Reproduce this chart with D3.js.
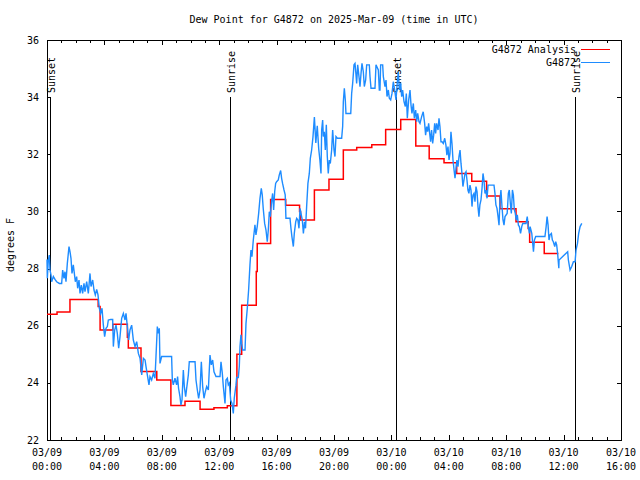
<!DOCTYPE html>
<html>
<head>
<meta charset="utf-8">
<script src="https://cdn.jsdelivr.net/npm/d3@7/dist/d3.min.js"></script>
<style>
html,body{margin:0;padding:0;background:#fff;}
text{font-family:"DejaVu Sans Mono",monospace;font-size:10px;fill:#000;}
</style>
</head>
<body>
<svg id="chart" width="640" height="480"></svg>
<script>
// ---- data (minutes since 2025-03-09 00:00 UTC, values in degrees F) ----
const chartTitle = "Dew Point for G4872 on 2025-Mar-09 (time in UTC)";
const yLabel = "degrees F";
const seriesNames = ["G4872 Analysis", "G4872"];
const yTicks = [22, 24, 26, 28, 30, 32, 34, 36];
const xTickMinutes = [0, 240, 480, 720, 960, 1200, 1440, 1680, 1920, 2160, 2400];
const xTickDates = ["03/09","03/09","03/09","03/09","03/09","03/09","03/10","03/10","03/10","03/10","03/10"];
const xTickTimes = ["00:00","04:00","08:00","12:00","16:00","20:00","00:00","04:00","08:00","12:00","16:00"];
const sunNames = ["Sunset", "Sunrise", "Sunset", "Sunrise"];
const sunMinutes = [14, 766, 1460, 2208];

const analysisMinutes = [0, 42, 96, 214, 222, 275, 336, 340, 393, 459, 518, 577, 640, 698, 754, 794, 814, 875, 879, 935, 998, 1056, 1060, 1118, 1179, 1239, 1295, 1358, 1416, 1479, 1542, 1598, 1660, 1713, 1776, 1838, 1894, 1961, 2012, 2018, 2079, 2138];
const analysisValues  = [26.40, 26.48, 26.92, 26.67, 25.85, 26.05, 25.60, 25.22, 24.40, 24.10, 23.21, 23.36, 23.08, 23.13, 23.20, 25.00, 26.72, 27.90, 28.88, 30.42, 30.22, 30.00, 29.70, 30.75, 31.13, 32.15, 32.24, 32.33, 32.87, 33.22, 32.29, 31.84, 31.70, 31.33, 31.06, 30.54, 30.09, 29.64, 29.40, 28.92, 28.53, 28.53];

const obsMinutes = [0,1.4,5.5,9.7,12.5,16.7,19.5,26.5,33.4,40.4,51.5,61.3,65.5,71,75.2,79.4,85,92,96.2,100.3,104.5,110,114.3,118.5,124,128.2,133.8,138,143.6,149,154.7,158.9,165.9,172.8,179.8,184,191,196.5,202,207.7,213.2,218.8,224.4,230,235.6,241,246.7,252.3,256.5,266.2,274.6,277.4,283,288.5,294,299.7,305.3,312.2,319.2,326.2,330.3,336,341.5,347,354,361,368,375,382,389,
396,403,410,414,419.5,426.4,430.6,437.6,444.6,451.5,455.7,461.3,465.5,469.6,472.4,479.4,486,521,524,528,535,542,546,550,556,560,564.5,570,574.2,579.8,584,591,595,605,619,623,628.6,634,639.7,645.3,650.9,656.4,662,667.6,674.6,681.5,687,692.7,698.2,706.6,716.4,723.4,727.5,733,737.3,744.3,748.4,754,758,762.4,768,773.5,
779,783,790,793,800,804,807,811,814,818,828,832,837.5,843,848.6,852.8,857,862.6,869.5,873.7,879,885,890.5,896,900,904,910,915.6,921,925.3,929.5,933.7,939,943.4,947.6,952,956,960,967,971,977,981,985,991,996,999,1016,1020,1024,1030,1034,1040,1044,1049,1053.6,1058,1062,1067.5,1072,1077,1081,1085.6,1091,1096.8,1101,1106.5,
1112,1118,1124,1130,1136,
1141,1145.6,1148.4,1152.6,1155.3,1159.5,1163.7,1167.9,1172,1176,1180.4,1184.6,1190.2,1194.4,1200,1204,1208.3,1214,1232,1236.2,1239,1243.2,1247.3,1250,1270,1273.8,1278,1283.6,1287.8,1292,1294.7,1299,1304.5,1308.7,1313,1317,1322.6,1326.8,1332.4,1336.6,1347.7,1350.5,1354.7,1371.4,1375.6,1385.3,1389.5,1392.3,1395,1403.5,1406.3,1413.2,1417.4,1421.6,1427.2,1431.3,1437,1442.5,1448,1453.7,1459.2,1464.8,1469,1473.2,1478.7,1483,1487,1492.7,1498.3,1502.4,1506.6,1512.2,1517.8,1522,1526,1531.7,1535.9,1541.5,1545.7,1549.9,1555.4,
1559.5,1566.5,1573,1579,1583,1587.4,1591.6,1595.7,1600,1604,1608,1612.5,1616.7,1621,1625,1629,1635,1639,1643,1647.3,1651.5,1657,1663,1668,1672,1676.6,1681,1685,1689,1693.3,1697.5,1702,1706,1710,1714,1718.4,1722.6,1727,1731,1735,1739,1743.5,1747.7,1752,1756,1760,1764,1768.6,1772.8,1777,1781,1785.3,1789.5,1793.7,1798,1802,1806,1810,1814.6,1819,1823,1827,1831.3,1835.5,1840,1844,1869,1873,1877,1881.5,1886,1890,1894,1898,1902.4,1906.6,1910.8,1915,1924,1929,1933,1937.3,1941.5,1946,1950,1954,1958,1962,1966.5,1971,1975,1980,1985,1989,1994,2003,2008,2012.5,2017,
2020,2027,2034,2038,2043.5,2082,2087,2091,2095,2099,2103.3,2109,2113,2117,2123,2127,2131,2135,2140,2141,2177,2180,2187,2194,2201,2208,2212,2218,2223,2229,2236];
const obsValues = [28.32,27.66,28.30,28.47,27.95,27.78,27.54,27.72,27.62,27.54,27.48,27.48,27.95,27.66,27.89,27.54,28.18,28.77,28.59,28.36,27.83,28.13,27.83,27.54,27.72,27.31,27.60,27.13,27.42,27.13,27.48,27.19,27.54,27.13,27.83,27.37,27.60,27.25,27.08,27.27,27.08,26.61,26.43,26.61,26.02,25.62,25.91,25.97,26.20,26.22,26.22,25.27,25.85,26.02,25.73,25.21,25.62,26.26,26.43,26.20,26.43,25.97,25.50,25.85,26.02,25.50,25.27,25.44,25.03,24.86,
24.28,24.86,24.80,24.57,24.28,23.93,24.22,24.10,24.33,24.16,24.92,25.97,25.73,25.91,24.68,24.92,24.92,24.92,24.10,23.93,24.16,23.93,24.22,23.81,23.52,23.22,23.40,24.45,23.87,23.52,23.81,24.28,24.74,24.74,24.74,24.10,23.75,23.46,23.75,24.74,23.87,23.46,23.69,23.87,23.75,24.97,24.63,24.80,24.39,24.22,24.22,24.22,24.74,24.33,23.87,23.28,24.10,24.16,23.93,23.99,23.40,23.28,
22.93,23.46,23.92,24.19,24.19,24.57,25.27,25.68,25.38,25.15,25.15,26.08,26.61,27.25,28.13,28.65,28.42,29.00,29.53,29.18,29.47,29.93,30.46,30.81,30.58,30.11,29.58,29.35,28.94,29.35,29.99,29.82,30.34,30.63,30.05,30.69,30.98,31.04,31.10,31.27,31.43,31.16,30.98,30.75,30.58,29.76,29.76,29.41,29.12,28.77,29.23,29.64,29.76,29.70,29.41,30.11,29.93,29.70,29.23,29.64,29.41,30.17,30.98,31.33,31.86,32.15,
32.60,33.30,32.40,33.00,32.20,
31.80,31.33,32.85,33.20,32.62,32.79,32.15,33.03,31.92,31.33,31.80,31.68,32.15,32.85,32.15,31.92,32.62,32.56,32.56,32.97,33.84,34.31,33.90,33.43,33.43,34.13,34.48,35.13,35.18,34.78,34.48,35.13,34.72,34.37,34.83,35.18,34.89,34.37,34.60,35.13,35.13,34.72,34.31,34.31,35.13,34.95,34.25,34.25,35.13,35.13,34.72,34.37,34.60,34.02,34.25,33.96,33.90,34.13,34.54,34.25,33.90,34.54,34.89,34.25,34.48,34.02,34.25,33.84,33.67,34.13,33.26,33.90,34.25,33.72,33.43,33.78,33.26,33.55,33.14,33.43,33.14,
33.08,33.32,33.49,33.08,32.67,32.97,32.79,33.08,32.73,32.44,32.85,32.38,32.67,33.08,32.73,33.08,32.85,33.26,32.97,32.44,32.44,32.38,32.56,32.32,31.97,32.27,31.80,32.03,32.79,32.38,31.80,31.45,31.16,31.51,31.80,31.57,31.92,32.15,31.68,31.33,30.87,31.10,31.33,31.39,31.10,30.75,30.63,30.92,30.75,30.17,30.57,30.63,30.34,30.87,30.69,30.17,29.82,30.23,30.40,30.81,31.33,31.10,30.63,30.75,30.46,30.92,30.92,30.63,30.23,30.11,29.82,29.52,30.40,30.75,30.17,29.70,29.52,29.82,29.93,30.63,30.75,30.28,29.93,30.75,30.57,30.05,29.93,29.70,29.88,29.52,29.47,29.23,29.47,29.58,29.58,29.58,29.82,29.47,29.23,
29.47,29.23,28.59,29.00,29.12,29.12,29.47,29.82,29.53,29.00,29.18,29.23,29.00,28.94,28.77,28.94,28.83,28.53,28.01,28.30,28.59,28.30,27.95,28.07,28.24,28.24,28.65,28.88,29.23,29.47,29.58];

// ---- drawing ----
const svg = d3.select("#chart");
const L = 47, R = 621, T = 40, B = 440;
const x = d3.scaleLinear().domain([0, 2400]).range([L, R]);
const y = d3.scaleLinear().domain([22, 36]).range([B, T]);
const px = v => Math.round(v) + 0.5;

svg.append("rect").attr("width", 640).attr("height", 480).attr("fill", "#fff");

// title
svg.append("text").attr("x", (L + R) / 2).attr("y", 23).attr("text-anchor", "middle").text(chartTitle);
// y label
svg.append("text").attr("transform", "translate(14,245) rotate(-90)").attr("text-anchor", "middle").text(yLabel);

const g = svg.append("g").attr("shape-rendering", "crispEdges");

// x ticks: major every 4h, minor every hour
const minorTicks = d3.range(0, 2401, 60);
minorTicks.forEach(m => {
  const isMajor = xTickMinutes.includes(m);
  const len = isMajor ? 5 : 3;
  const xx = px(x(m));
  g.append("line").attr("x1", xx).attr("x2", xx).attr("y1", B).attr("y2", B - len).attr("stroke", "#000");
  g.append("line").attr("x1", xx).attr("x2", xx).attr("y1", T).attr("y2", T + len).attr("stroke", "#000");
});
xTickMinutes.forEach((m, i) => {
  const t = svg.append("text").attr("text-anchor", "middle");
  t.append("tspan").attr("x", x(m)).attr("y", 456).text(xTickDates[i]);
  t.append("tspan").attr("x", x(m)).attr("y", 470).text(xTickTimes[i]);
});

// y ticks
yTicks.forEach(v => {
  const yy = px(y(v));
  g.append("line").attr("x1", L).attr("x2", L + 4).attr("y1", yy).attr("y2", yy).attr("stroke", "#000");
  g.append("line").attr("x1", R - 4).attr("x2", R).attr("y1", yy).attr("y2", yy).attr("stroke", "#000");
  svg.append("text").attr("x", 39).attr("y", y(v) + 3.5).attr("text-anchor", "end").text(v);
});

// sunrise / sunset markers
sunMinutes.forEach((m, i) => {
  const xx = px(x(m));
  g.append("line").attr("x1", xx).attr("x2", xx).attr("y1", 97).attr("y2", B).attr("stroke", "#000");
  svg.append("text").attr("transform", `translate(${xx + 4.5},93) rotate(-90)`).attr("text-anchor", "start").text(sunNames[i]);
});

// analysis (step) line
const aData = analysisMinutes.map((m, i) => [m, analysisValues[i]]);
svg.append("path").datum(aData)
  .attr("d", d3.line().x(d => x(d[0])).y(d => y(d[1])).curve(d3.curveStepAfter))
  .attr("fill", "none").attr("stroke", "#ff0000").attr("stroke-width", 1.5);

// observations line
const oData = obsMinutes.map((m, i) => [m, obsValues[i]]);
svg.append("path").datum(oData)
  .attr("d", d3.line().x(d => x(d[0])).y(d => y(d[1])))
  .attr("fill", "none").attr("stroke", "#1e8cff").attr("stroke-width", 1.4);

// frame
g.append("rect").attr("x", L + 0.5).attr("y", T + 0.5).attr("width", R - L).attr("height", B - T)
  .attr("fill", "none").attr("stroke", "#000");

// legend
const legColors = ["#ff0000", "#1e8cff"];
seriesNames.forEach((n, i) => {
  const yy = 49 + i * 13;
  svg.append("text").attr("x", 576).attr("y", yy + 3.5).attr("text-anchor", "end").text(n);
  g.append("line").attr("x1", 581).attr("x2", 610).attr("y1", yy + 0.5).attr("y2", yy + 0.5).attr("stroke", legColors[i]);
});
</script>
</body>
</html>
